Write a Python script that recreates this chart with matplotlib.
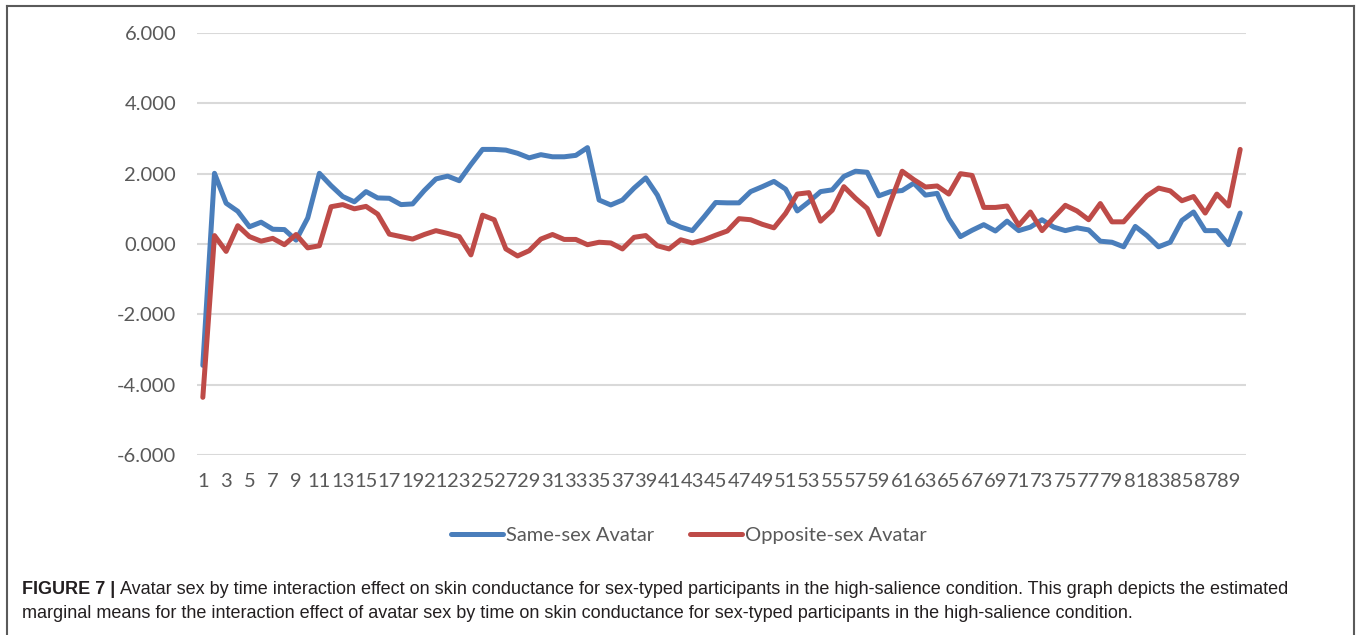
import matplotlib
matplotlib.use("Agg")
import matplotlib.pyplot as plt
from matplotlib.lines import Line2D

# ---------------- data ----------------
time_points = list(range(1, 91))
same_sex = [
    -3.45, 2.01, 1.16, 0.93, 0.49, 0.62, 0.42, 0.41, 0.11, 0.74,
    2.01, 1.66, 1.35, 1.20, 1.49, 1.31, 1.30, 1.12, 1.14, 1.52,
    1.85, 1.93, 1.80, 2.26, 2.69, 2.69, 2.67, 2.58, 2.45, 2.54,
    2.48, 2.48, 2.52, 2.74, 1.25, 1.11, 1.25, 1.59, 1.88, 1.39,
    0.63, 0.48, 0.38, 0.77, 1.18, 1.17, 1.17, 1.49, 1.63, 1.78,
    1.56, 0.94, 1.20, 1.49, 1.54, 1.92, 2.07, 2.04, 1.37, 1.49,
    1.52, 1.73, 1.39, 1.44, 0.72, 0.21, 0.39, 0.55, 0.37, 0.65,
    0.38, 0.48, 0.69, 0.48, 0.38, 0.46, 0.40, 0.08, 0.05, -0.08,
    0.50, 0.24, -0.08, 0.05, 0.67, 0.91, 0.38, 0.38, -0.02, 0.88,
]
opposite_sex = [
    -4.36, 0.24, -0.21, 0.52, 0.21, 0.08, 0.16, -0.02, 0.27, -0.11,
    -0.05, 1.06, 1.12, 1.00, 1.07, 0.85, 0.28, 0.21, 0.14, 0.27,
    0.38, 0.30, 0.21, -0.31, 0.82, 0.69, -0.14, -0.34, -0.19, 0.14,
    0.27, 0.13, 0.13, -0.02, 0.05, 0.03, -0.14, 0.19, 0.24, -0.05,
    -0.14, 0.12, 0.03, 0.12, 0.25, 0.37, 0.72, 0.69, 0.56, 0.46,
    0.87, 1.42, 1.46, 0.65, 0.96, 1.63, 1.30, 1.01, 0.27, 1.20,
    2.07, 1.83, 1.62, 1.65, 1.42, 2.00, 1.95, 1.04, 1.04, 1.08,
    0.53, 0.91, 0.38, 0.75, 1.10, 0.94, 0.69, 1.15, 0.63, 0.63,
    1.01, 1.37, 1.59, 1.51, 1.23, 1.35, 0.88, 1.42, 1.08, 2.69,
]
series_names = ["Same-sex Avatar", "Opposite-sex Avatar"]
y_ticks = [-6, -4, -2, 0, 2, 4, 6]
x_tick_labels = [str(t) for t in time_points[::2]]
caption_bold = "FIGURE 7 |"
caption_line1 = ("Avatar sex by time interaction effect on skin conductance for sex-typed "
                 "participants in the high-salience condition. This graph depicts the estimated")
caption_line2 = ("marginal means for the interaction effect of avatar sex by time on skin "
                 "conductance for sex-typed participants in the high-salience condition.")

# ---------------- figure ----------------
W, H = 1360, 635
fig = plt.figure(figsize=(W / 100, H / 100), dpi=100)
fig.patch.set_facecolor("white")

ax_left, ax_right, ax_top, ax_bottom = 197, 1246, 33, 455
ax = fig.add_axes([ax_left / W, 1 - ax_bottom / H,
                   (ax_right - ax_left) / W, (ax_bottom - ax_top) / H])

tick_font = "Lato"
tick_size = 14.5
tick_color = "#595959"
blue = "#4A7EBB"
red = "#BE4B48"

l1, = ax.plot(time_points, same_sex, color=blue, lw=3.6, solid_joinstyle="round",
              solid_capstyle="round", zorder=3)
l2, = ax.plot(time_points, opposite_sex, color=red, lw=3.6, solid_joinstyle="round",
              solid_capstyle="round", zorder=3)

ax.set_xlim(0.5, len(time_points) + 0.5)
ax.set_ylim(y_ticks[0], y_ticks[-1])
ax.set_yticks(y_ticks)
ax.set_yticklabels([f"{v:.3f}" for v in y_ticks])
ax.set_xticks(time_points[::2])
ax.set_xticklabels(x_tick_labels)
ax.grid(axis="y", color="#D9D9D9", lw=1.5, zorder=0)
ax.grid(axis="x", visible=False)
for s in ax.spines.values():
    s.set_visible(False)
ax.tick_params(axis="both", length=0, colors=tick_color, labelsize=tick_size)
ax.tick_params(axis="y", pad=15)
ax.tick_params(axis="x", pad=13)
for lab in ax.get_xticklabels() + ax.get_yticklabels():
    lab.set_fontfamily(tick_font)

leg = fig.legend([l1, l2], series_names, loc="center",
                 bbox_to_anchor=(689 / W, 1 - 535 / H), ncol=2, frameon=False,
                 handlelength=2.6, handletextpad=0.15, columnspacing=1.75,
                 prop={"family": tick_font, "size": tick_size})
for t in leg.get_texts():
    t.set_color(tick_color)

# outer frame
frame_col = "#5a5a5a"
fig.add_artist(Line2D([7 / W, 7 / W], [0, 1 - 6 / H], transform=fig.transFigure,
                      color=frame_col, lw=1.5))
fig.add_artist(Line2D([1354 / W, 1354 / W], [0, 1 - 6 / H], transform=fig.transFigure,
                      color=frame_col, lw=1.5))
fig.add_artist(Line2D([7 / W, 1354 / W], [1 - 6 / H, 1 - 6 / H], transform=fig.transFigure,
                      color=frame_col, lw=1.5))

# caption
cap_font = "Liberation Sans"
cap_size = 13.0
cap_color = "#231F20"
y1 = 1 - 589 / H
y2 = 1 - 614 / H
tb = fig.text(22 / W, y1, caption_bold, fontfamily=cap_font, fontweight="bold",
              fontsize=cap_size, color=cap_color, va="center", ha="left")
fig.canvas.draw()
bb = tb.get_window_extent(renderer=fig.canvas.get_renderer())
fig.text(bb.x1 / W + 5 / W, y1, caption_line1, fontfamily=cap_font,
         fontsize=cap_size, color=cap_color, va="center", ha="left")
fig.text(22 / W, y2, caption_line2, fontfamily=cap_font,
         fontsize=cap_size, color=cap_color, va="center", ha="left")

fig.savefig("out.png", dpi=100, facecolor="white")
